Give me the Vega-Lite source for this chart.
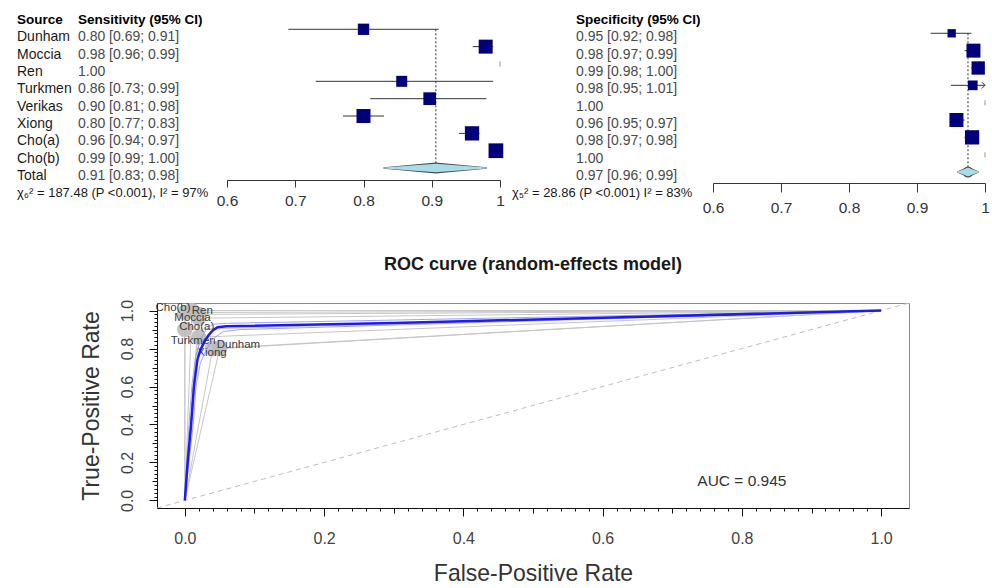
{
  "$schema": "https://vega.github.io/schema/vega-lite/v6.json",
  "padding": {"left": 17, "top": 11.3, "right": 0, "bottom": 0},
  "background": "white",
  "config": {"font": "Liberation Sans", "view": {"stroke": null}, "axis": {"grid": false}},
  "datasets": {
    "forest": [
      {"row": "hdr", "source": "Source", "sens_txt": "Sensitivity (95% CI)", "spec_txt": "Specificity (95% CI)"},
      {"row": "Dunham", "source": "Dunham", "sens": 0.80, "sens_lo": 0.69, "sens_hi": 0.91, "sens_w": 10.5, "sens_txt": "0.80 [0.69; 0.91]", "spec": 0.951, "spec_lo": 0.92, "spec_hi": 0.98, "spec_w": 7.4, "spec_txt": "0.95 [0.92; 0.98]"},
      {"row": "Moccia", "source": "Moccia", "sens": 0.979, "sens_lo": 0.96, "sens_hi": 0.99, "sens_w": 16.0, "sens_txt": "0.98 [0.96; 0.99]", "spec": 0.983, "spec_lo": 0.97, "spec_hi": 0.99, "spec_w": 20.9, "spec_txt": "0.98 [0.97; 0.99]"},
      {"row": "Ren", "source": "Ren", "sens": 1.0, "sens_txt": "1.00", "spec": 0.99, "spec_lo": 0.98, "spec_hi": 1.0, "spec_w": 18.9, "spec_txt": "0.99 [0.98; 1.00]"},
      {"row": "Turkmen", "source": "Turkmen", "sens": 0.856, "sens_lo": 0.73, "sens_hi": 0.99, "sens_w": 9.9, "sens_txt": "0.86 [0.73; 0.99]", "spec": 0.982, "spec_lo": 0.95, "spec_hi": 1.01, "spec_w": 10.0, "spec_txt": "0.98 [0.95; 1.01]"},
      {"row": "Verikas", "source": "Verikas", "sens": 0.897, "sens_lo": 0.81, "sens_hi": 0.98, "sens_w": 13.2, "sens_txt": "0.90 [0.81; 0.98]", "spec": 1.0, "spec_txt": "1.00"},
      {"row": "Xiong", "source": "Xiong", "sens": 0.80, "sens_lo": 0.77, "sens_hi": 0.83, "sens_w": 16.0, "sens_txt": "0.80 [0.77; 0.83]", "spec": 0.958, "spec_lo": 0.95, "spec_hi": 0.97, "spec_w": 20.9, "spec_txt": "0.96 [0.95; 0.97]"},
      {"row": "Cho(a)", "source": "Cho(a)", "sens": 0.959, "sens_lo": 0.94, "sens_hi": 0.97, "sens_w": 16.7, "sens_txt": "0.96 [0.94; 0.97]", "spec": 0.981, "spec_lo": 0.97, "spec_hi": 0.98, "spec_w": 21.8, "spec_txt": "0.98 [0.97; 0.98]"},
      {"row": "Cho(b)", "source": "Cho(b)", "sens": 0.994, "sens_lo": 0.99, "sens_hi": 1.0, "sens_w": 17.7, "sens_txt": "0.99 [0.99; 1.00]", "spec": 1.0, "spec_txt": "1.00"},
      {"row": "Total", "source": "Total", "sens": 0.906, "sens_lo": 0.83, "sens_hi": 0.98, "sens_txt": "0.91 [0.83; 0.98]", "spec": 0.975, "spec_lo": 0.96, "spec_hi": 0.99, "spec_txt": "0.97 [0.96; 0.99]"},
      {"row": "het", "source": "χ₆² = 187.48 (P <0.001), I² = 97%", "sens_txt": "", "spec_het": "χ₅² = 28.86 (P <0.001) I² = 83%"}
    ],
    "studies": [
      {"study": "Dunham", "fpr": 0.05, "tpr": 0.80, "label_fpr": 0.077, "label_tpr": 0.82},
      {"study": "Moccia", "fpr": 0.02, "tpr": 0.98, "label_fpr": 0.011, "label_tpr": 0.96},
      {"study": "Ren", "fpr": 0.01, "tpr": 1.00, "label_fpr": 0.025, "label_tpr": 1.0},
      {"study": "Turkmen", "fpr": 0.02, "tpr": 0.86, "label_fpr": 0.012, "label_tpr": 0.842},
      {"study": "Verikas", "fpr": 0.00, "tpr": 0.90},
      {"study": "Xiong", "fpr": 0.04, "tpr": 0.80, "label_fpr": 0.039, "label_tpr": 0.779},
      {"study": "Cho(a)", "fpr": 0.02, "tpr": 0.96, "label_fpr": 0.017, "label_tpr": 0.913},
      {"study": "Cho(b)", "fpr": 0.00, "tpr": 0.99, "label_fpr": -0.017, "label_tpr": 1.013}
    ],
    "roc_lines": [
      {"study": "Dunham", "ord": 0, "fpr": 0, "tpr": 0}, {"study": "Dunham", "ord": 1, "fpr": 0.05, "tpr": 0.80}, {"study": "Dunham", "ord": 2, "fpr": 1, "tpr": 1},
      {"study": "Moccia", "ord": 0, "fpr": 0, "tpr": 0}, {"study": "Moccia", "ord": 1, "fpr": 0.02, "tpr": 0.98}, {"study": "Moccia", "ord": 2, "fpr": 1, "tpr": 1},
      {"study": "Ren", "ord": 0, "fpr": 0, "tpr": 0}, {"study": "Ren", "ord": 1, "fpr": 0.01, "tpr": 1.00}, {"study": "Ren", "ord": 2, "fpr": 1, "tpr": 1},
      {"study": "Turkmen", "ord": 0, "fpr": 0, "tpr": 0}, {"study": "Turkmen", "ord": 1, "fpr": 0.02, "tpr": 0.86}, {"study": "Turkmen", "ord": 2, "fpr": 1, "tpr": 1},
      {"study": "Verikas", "ord": 0, "fpr": 0, "tpr": 0}, {"study": "Verikas", "ord": 1, "fpr": 0.00, "tpr": 0.90}, {"study": "Verikas", "ord": 2, "fpr": 1, "tpr": 1},
      {"study": "Xiong", "ord": 0, "fpr": 0, "tpr": 0}, {"study": "Xiong", "ord": 1, "fpr": 0.04, "tpr": 0.80}, {"study": "Xiong", "ord": 2, "fpr": 1, "tpr": 1},
      {"study": "Cho(a)", "ord": 0, "fpr": 0, "tpr": 0}, {"study": "Cho(a)", "ord": 1, "fpr": 0.02, "tpr": 0.96}, {"study": "Cho(a)", "ord": 2, "fpr": 1, "tpr": 1},
      {"study": "Cho(b)", "ord": 0, "fpr": 0, "tpr": 0}, {"study": "Cho(b)", "ord": 1, "fpr": 0.00, "tpr": 0.99}, {"study": "Cho(b)", "ord": 2, "fpr": 1, "tpr": 1}
    ],
    "sroc": [
      {"fpr": 0, "tpr": 0}, {"fpr": 0.004, "tpr": 0.2}, {"fpr": 0.009, "tpr": 0.4}, {"fpr": 0.013, "tpr": 0.6},
      {"fpr": 0.018, "tpr": 0.74}, {"fpr": 0.022, "tpr": 0.79}, {"fpr": 0.028, "tpr": 0.835}, {"fpr": 0.034, "tpr": 0.87},
      {"fpr": 0.04, "tpr": 0.895}, {"fpr": 0.047, "tpr": 0.912}, {"fpr": 0.06, "tpr": 0.917}, {"fpr": 0.3, "tpr": 0.935},
      {"fpr": 0.6, "tpr": 0.962}, {"fpr": 1, "tpr": 1}
    ],
    "sroc_ci": [
      {"band": "upper", "fpr": 0, "tpr": 0}, {"band": "upper", "fpr": 0.006, "tpr": 0.4}, {"band": "upper", "fpr": 0.01, "tpr": 0.6},
      {"band": "upper", "fpr": 0.015, "tpr": 0.75}, {"band": "upper", "fpr": 0.022, "tpr": 0.84}, {"band": "upper", "fpr": 0.03, "tpr": 0.9},
      {"band": "upper", "fpr": 0.04, "tpr": 0.928}, {"band": "upper", "fpr": 0.06, "tpr": 0.933}, {"band": "upper", "fpr": 1, "tpr": 1},
      {"band": "lower", "fpr": 0, "tpr": 0}, {"band": "lower", "fpr": 0.012, "tpr": 0.4}, {"band": "lower", "fpr": 0.016, "tpr": 0.6},
      {"band": "lower", "fpr": 0.022, "tpr": 0.72}, {"band": "lower", "fpr": 0.03, "tpr": 0.79}, {"band": "lower", "fpr": 0.04, "tpr": 0.85},
      {"band": "lower", "fpr": 0.055, "tpr": 0.89}, {"band": "lower", "fpr": 0.08, "tpr": 0.9}, {"band": "lower", "fpr": 1, "tpr": 1}
    ],
    "chance": [{"fpr": -0.04, "tpr": -0.04, "fpr2": 1.04, "tpr2": 1.04}],
    "auc": [{"fpr": 0.8, "tpr": 0.1, "label": "AUC = 0.945"}]
  },
  "bounds": "flush",
  "spacing": 291.7,
  "resolve": {"scale": {"size": "independent", "color": "independent"}},
  "vconcat": [
    {
      "bounds": "flush",
      "spacing": 0,
      "resolve": {"scale": {"size": "independent", "color": "independent"}},
      "hconcat": [
        {
          "width": 210,
          "height": 190.85,
          "data": {"name": "forest"},
          "transform": [{"fold": ["source", "sens_txt"], "as": ["col", "txt"]}, {"filter": "isValid(datum.txt) && datum.txt != ''"}],
          "encoding": {
            "x": {"field": "col", "type": "nominal", "scale": {"type": "point", "domain": ["source", "sens_txt", "end"], "padding": 0.721, "align": 0}, "axis": null},
            "y": {"field": "row", "type": "ordinal", "scale": {"type": "point", "domain": ["hdr", "Dunham", "Moccia", "Ren", "Turkmen", "Verikas", "Xiong", "Cho(a)", "Cho(b)", "Total", "het"], "padding": 0.5}, "axis": null},
            "text": {"field": "txt"}
          },
          "layer": [
            {"transform": [{"filter": "datum.row != 'hdr' && datum.col == 'source' && datum.row != 'het'"}], "mark": {"type": "text", "align": "left", "baseline": "middle", "fontSize": 14, "color": "#1a1a1a"}},
            {"transform": [{"filter": "datum.row == 'het'"}], "mark": {"type": "text", "align": "left", "baseline": "middle", "fontSize": 13, "color": "#1a1a1a"}},
            {"transform": [{"filter": "datum.row != 'hdr' && datum.col == 'sens_txt'"}], "mark": {"type": "text", "align": "left", "baseline": "middle", "fontSize": 14, "color": "#4a4a4a"}},
            {"transform": [{"filter": "datum.row == 'hdr'"}], "mark": {"type": "text", "align": "left", "baseline": "middle", "fontSize": 13.5, "fontWeight": "bold", "color": "#000000"}}
          ]
        },
        {
          "width": 273,
          "height": 157.4,
          "data": {"name": "forest"},
          "resolve": {"scale": {"size": "independent"}},
          "encoding": {
            "y": {"field": "row", "type": "ordinal", "scale": {"type": "point", "domain": ["hdr", "Dunham", "Moccia", "Ren", "Turkmen", "Verikas", "Xiong", "Cho(a)", "Cho(b)", "Total"], "padding": 0.037}, "axis": null}
          },
          "layer": [
            {
              "transform": [{"filter": "datum.row == 'Total'"}],
              "mark": {"type": "rule", "strokeDash": [2, 2], "color": "#333333", "strokeWidth": 1},
              "encoding": {
                "x": {"field": "sens", "type": "quantitative", "scale": {"domain": [0.6, 1], "nice": false, "zero": false},
                  "axis": {"values": [0.6, 0.7, 0.8, 0.9, 1], "format": "~g", "title": null, "offset": 11.3, "tickSize": 7, "domainColor": "#333", "tickColor": "#333", "labelColor": "#333", "labelFontSize": 15.5, "labelPadding": 7, "labelFlush": false}},
                "y": {"datum": "Dunham", "type": "ordinal"},
                "y2": {"datum": "Total"}
              }
            },
            {
              "transform": [{"filter": "isValid(datum.sens_lo) && datum.row != 'Total'"}],
              "mark": {"type": "rule", "color": "#333333", "strokeWidth": 1},
              "encoding": {"x": {"field": "sens_lo", "type": "quantitative"}, "x2": {"field": "sens_hi"}}
            },
            {
              "transform": [{"filter": "isValid(datum.sens_w)"}],
              "mark": {"type": "square", "filled": true, "color": "#00007a", "opacity": 1},
              "encoding": {"x": {"field": "sens", "type": "quantitative"}, "size": {"field": "sens_w", "type": "quantitative", "scale": {"domain": [0, 100], "range": [0, 1222]}, "legend": null}}
            },
            {
              "transform": [{"filter": "!isValid(datum.sens_lo) && isValid(datum.sens)"}],
              "mark": {"type": "tick", "color": "#666666", "size": 5, "thickness": 1},
              "encoding": {"x": {"field": "sens", "type": "quantitative"}}
            },
            {
              "transform": [{"filter": "datum.row == 'Total'"}, {"fold": ["sens_lo", "sens", "sens_hi"], "as": ["pt", "val"]}],
              "mark": {"type": "trail", "color": "#4a4a4a"},
              "encoding": {"x": {"field": "val", "type": "quantitative"}, "size": {"field": "pt", "type": "ordinal", "scale": {"type": "ordinal", "domain": ["sens_lo", "sens", "sens_hi"], "range": [1.5, 11, 1.5]}, "legend": null}}
            },
            {
              "transform": [{"filter": "datum.row == 'Total'"}, {"fold": ["sens_lo", "sens", "sens_hi"], "as": ["pt", "val"]}],
              "mark": {"type": "trail", "color": "#a9dbe8"},
              "encoding": {"x": {"field": "val", "type": "quantitative"}, "size": {"field": "pt", "type": "ordinal", "scale": {"type": "ordinal", "domain": ["sens_lo", "sens", "sens_hi"], "range": [0, 8.5, 0]}, "legend": null}}
            }
          ]
        },
        {
          "width": 213,
          "height": 190.85,
          "data": {"name": "forest"},
          "transform": [{"fold": ["spec_het", "spec_txt"], "as": ["col", "txt"]}, {"filter": "isValid(datum.txt) && datum.txt != ''"}],
          "encoding": {
            "x": {"field": "col", "type": "nominal", "scale": {"type": "point", "domain": ["spec_het", "spec_txt", "end"], "padding": 0.664, "align": 0.141}, "axis": null},
            "y": {"field": "row", "type": "ordinal", "scale": {"type": "point", "domain": ["hdr", "Dunham", "Moccia", "Ren", "Turkmen", "Verikas", "Xiong", "Cho(a)", "Cho(b)", "Total", "het"], "padding": 0.5}, "axis": null},
            "text": {"field": "txt"}
          },
          "layer": [
            {"transform": [{"filter": "datum.row == 'het'"}], "mark": {"type": "text", "align": "left", "baseline": "middle", "fontSize": 13, "color": "#1a1a1a"}},
            {"transform": [{"filter": "datum.row != 'hdr' && datum.row != 'het'"}], "mark": {"type": "text", "align": "left", "baseline": "middle", "fontSize": 14, "color": "#4a4a4a"}},
            {"transform": [{"filter": "datum.row == 'hdr'"}], "mark": {"type": "text", "align": "left", "baseline": "middle", "fontSize": 13.5, "fontWeight": "bold", "color": "#000000"}}
          ]
        },
        {
          "width": 272,
          "height": 165.4,
          "data": {"name": "forest"},
          "resolve": {"scale": {"size": "independent"}},
          "encoding": {
            "y": {"field": "row", "type": "ordinal", "scale": {"type": "point", "domain": ["hdr", "Dunham", "Moccia", "Ren", "Turkmen", "Verikas", "Xiong", "Cho(a)", "Cho(b)", "Total"], "padding": 0.268}, "axis": null}
          },
          "layer": [
            {
              "transform": [{"filter": "datum.row == 'Total'"}],
              "mark": {"type": "rule", "strokeDash": [2, 2], "color": "#333333", "strokeWidth": 1},
              "encoding": {
                "x": {"field": "spec", "type": "quantitative", "scale": {"domain": [0.6, 1], "nice": false, "zero": false},
                  "axis": {"values": [0.6, 0.7, 0.8, 0.9, 1], "format": "~g", "title": null, "offset": 6.3, "tickSize": 9, "domainColor": "#333", "tickColor": "#333", "labelColor": "#333", "labelFontSize": 15.5, "labelPadding": 9, "labelFlush": false}},
                "y": {"datum": "Dunham", "type": "ordinal"},
                "y2": {"datum": "Total"}
              }
            },
            {
              "transform": [{"filter": "isValid(datum.spec_lo) && datum.row != 'Total'"}],
              "mark": {"type": "rule", "color": "#333333", "strokeWidth": 1, "clip": true},
              "encoding": {"x": {"field": "spec_lo", "type": "quantitative"}, "x2": {"field": "spec_hi"}}
            },
            {
              "transform": [{"filter": "datum.spec_hi > 1"}],
              "mark": {"type": "point", "shape": "M -1 -1 L 0 0 L -1 1", "filled": false, "size": 40, "color": "#333333", "strokeWidth": 1, "opacity": 1},
              "encoding": {"x": {"datum": 1, "type": "quantitative"}}
            },
            {
              "transform": [{"filter": "isValid(datum.spec_w)"}],
              "mark": {"type": "square", "filled": true, "color": "#00007a", "opacity": 1},
              "encoding": {"x": {"field": "spec", "type": "quantitative"}, "size": {"field": "spec_w", "type": "quantitative", "scale": {"domain": [0, 100], "range": [0, 936]}, "legend": null}}
            },
            {
              "transform": [{"filter": "!isValid(datum.spec_lo) && isValid(datum.spec)"}],
              "mark": {"type": "tick", "color": "#666666", "size": 5, "thickness": 1},
              "encoding": {"x": {"field": "spec", "type": "quantitative"}}
            },
            {
              "transform": [{"filter": "datum.row == 'Total'"}, {"fold": ["spec_lo", "spec", "spec_hi"], "as": ["pt", "val"]}],
              "mark": {"type": "trail", "color": "#4a4a4a"},
              "encoding": {"x": {"field": "val", "type": "quantitative"}, "size": {"field": "pt", "type": "ordinal", "scale": {"type": "ordinal", "domain": ["spec_lo", "spec", "spec_hi"], "range": [1.5, 11, 1.5]}, "legend": null}}
            },
            {
              "transform": [{"filter": "datum.row == 'Total'"}, {"fold": ["spec_lo", "spec", "spec_hi"], "as": ["pt", "val"]}],
              "mark": {"type": "trail", "color": "#a9dbe8"},
              "encoding": {"x": {"field": "val", "type": "quantitative"}, "size": {"field": "pt", "type": "ordinal", "scale": {"type": "ordinal", "domain": ["spec_lo", "spec", "spec_hi"], "range": [0, 8.5, 0]}, "legend": null}}
            }
          ]
        }
      ]
    },
    {
      "bounds": "flush",
      "spacing": 0,
      "hconcat": [
        {"width": 140, "height": 10, "data": {"values": []}, "mark": "point", "encoding": {}},
        {
          "width": 752,
          "height": 205,
          "view": {"stroke": "#8a8a8a", "strokeWidth": 1},
          "title": {"text": "ROC curve (random-effects model)", "fontSize": 18, "fontWeight": "bold", "color": "#1a1a1a", "anchor": "middle", "frame": "group", "offset": 25},
          "encoding": {
            "x": {"field": "fpr", "type": "quantitative", "scale": {"domain": [-0.04, 1.04], "nice": false, "zero": false},
              "axis": {"values": [0,0.02,0.04,0.06,0.08,0.1,0.12,0.14,0.16,0.18,0.2,0.22,0.24,0.26,0.28,0.3,0.32,0.34,0.36,0.38,0.4,0.42,0.44,0.46,0.48,0.5,0.52,0.54,0.56,0.58,0.6,0.62,0.64,0.66,0.68,0.7,0.72,0.74,0.76,0.78,0.8,0.82,0.84,0.86,0.88,0.9,0.92,0.94,0.96,0.98,1],
                "labelExpr": "abs(datum.value*5-round(datum.value*5))<0.001 ? format(datum.value, '.1f') : ''",
                "tickSize": {"condition": [{"test": "abs(datum.value*5-round(datum.value*5))<0.001", "value": 8}, {"test": "abs(datum.value*10-round(datum.value*10))<0.001", "value": 5}], "value": 3},
                "labelOverlap": false, "labelFlush": false, "domainColor": "#111", "tickColor": "#111", "labelColor": "#444", "labelFontSize": 16, "labelPadding": 15,
                "title": "False-Positive Rate", "titleFontSize": 23, "titleFontWeight": "normal", "titleColor": "#333", "titlePadding": 16}},
            "y": {"field": "tpr", "type": "quantitative", "scale": {"domain": [-0.04, 1.04], "nice": false, "zero": false},
              "axis": {"values": [0,0.02,0.04,0.06,0.08,0.1,0.12,0.14,0.16,0.18,0.2,0.22,0.24,0.26,0.28,0.3,0.32,0.34,0.36,0.38,0.4,0.42,0.44,0.46,0.48,0.5,0.52,0.54,0.56,0.58,0.6,0.62,0.64,0.66,0.68,0.7,0.72,0.74,0.76,0.78,0.8,0.82,0.84,0.86,0.88,0.9,0.92,0.94,0.96,0.98,1],
                "labelExpr": "abs(datum.value*5-round(datum.value*5))<0.001 ? format(datum.value, '.1f') : ''",
                "tickSize": {"condition": [{"test": "abs(datum.value*5-round(datum.value*5))<0.001", "value": 8}, {"test": "abs(datum.value*10-round(datum.value*10))<0.001", "value": 5}], "value": 3},
                "labelAngle": 270, "labelOverlap": false, "labelFlush": false, "domainColor": "#111", "tickColor": "#111", "labelColor": "#444", "labelFontSize": 16, "labelPadding": 14,
                "title": "True-Positive Rate", "titleFontSize": 23, "titleFontWeight": "normal", "titleColor": "#333", "titlePadding": 16}}
          },
          "layer": [
            {
              "data": {"name": "chance"},
              "mark": {"type": "rule", "color": "#bdbdbd", "strokeDash": [5, 4], "strokeWidth": 1, "clip": true},
              "encoding": {"x2": {"field": "fpr2"}, "y2": {"field": "tpr2"}}
            },
            {
              "data": {"name": "roc_lines"},
              "mark": {"type": "line", "color": "#c6c6c6", "strokeWidth": 1},
              "encoding": {"detail": {"field": "study"}, "order": {"field": "ord", "type": "quantitative"}}
            },
            {
              "data": {"name": "studies"},
              "mark": {"type": "circle", "color": "#bdbdbd", "opacity": 0.9, "size": 240},
              "encoding": {}
            },
            {
              "data": {"name": "studies"},
              "transform": [{"filter": "isValid(datum.label_fpr)"}],
              "mark": {"type": "text", "fontSize": 11.5, "color": "#3a3a3a"},
              "encoding": {"x": {"field": "label_fpr", "type": "quantitative"}, "y": {"field": "label_tpr", "type": "quantitative"}, "text": {"field": "study"}}
            },
            {
              "data": {"name": "sroc_ci"},
              "mark": {"type": "line", "color": "#8c8cff", "strokeWidth": 1, "opacity": 0.8},
              "encoding": {"detail": {"field": "band"}}
            },
            {
              "data": {"name": "sroc"},
              "mark": {"type": "line", "color": "#1c1cf0", "strokeWidth": 2.5},
              "encoding": {}
            },
            {
              "data": {"name": "auc"},
              "mark": {"type": "text", "fontSize": 15.5, "color": "#333333"},
              "encoding": {"text": {"field": "label"}}
            }
          ]
        }
      ]
    }
  ]
}
